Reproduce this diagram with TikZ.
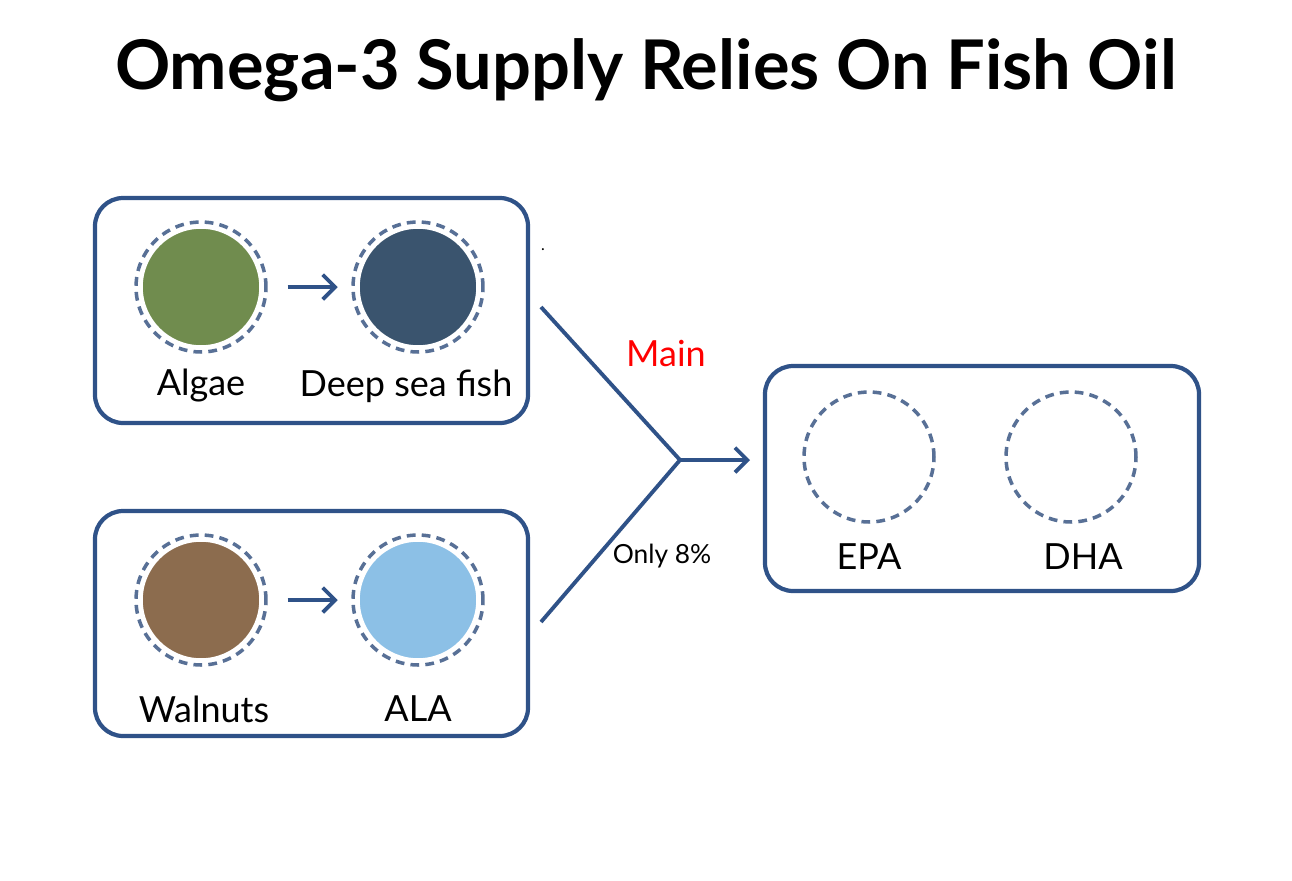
\documentclass[tikz,border=0pt]{standalone}
\usepackage{fontspec}
\setmainfont{Lato}
\usetikzlibrary{arrows.meta,positioning}
\definecolor{boxblue}{RGB}{47,82,136}
\definecolor{ringblue}{RGB}{88,112,150}
\definecolor{algaegreen}{RGB}{112,140,78}
\definecolor{fishblue}{RGB}{58,84,110}
\definecolor{nutbrown}{RGB}{140,108,78}
\definecolor{alablue}{RGB}{140,192,230}
\tikzset{
  panel/.style={draw=boxblue, line width=2.4pt, rounded corners=16pt},
  photo/.style={circle, minimum size=2.4cm, inner sep=0pt, draw=white, line width=2pt},
  ring/.style={circle, minimum size=2.6cm, inner sep=0pt, draw=ringblue, line width=2pt, dash pattern=on 5pt off 3.5pt},
  tag/.style={font=\fontsize{20.5}{24}\selectfont},
  link/.style={draw=boxblue, line width=2.2pt},
  flow/.style={link, -{Straight Barb[length=7pt,width=14pt]}}
}
\begin{document}
\begin{tikzpicture}[x=0.02cm,y=-0.02cm]
    \useasboundingbox (0,0) rectangle (1292,880);
    % Title
    \node[font=\bfseries\fontsize{39}{44}\selectfont] (title) at (646,70) {Omega-3 Supply Relies On Fish Oil};

    % Panels
    \draw[panel] (95,198) rectangle (528,423);
    \draw[panel] (95,511) rectangle (528,736);
    \draw[panel] (765,366) rectangle (1199,591);

    % Pictures in dashed rings
    \foreach \name/\x/\y/\col in {algae/201/287/algaegreen, fish/418/287/fishblue,
        walnut/201/600/nutbrown, ala/418/600/alablue, epa/869/457/white, dha/1071/457/white} {
        \node[photo, fill=\col] at (\x,\y) {};
        \node[ring] (\name) at (\x,\y) {};
    }

    % Labels
    \node[tag] (algaetxt) at (201,386) {Algae};
    \node[tag] (fishtxt) at (406,386) {Deep sea fish};
    \node[tag] (walnuttxt) at (204,709) {Walnuts};
    \node[tag] (alatxt) at (418,709) {ALA};
    \node[tag] (epatxt) at (869,557) {EPA};
    \node[tag] (dhatxt) at (1083,557) {DHA};

    % Arrows inside panels
    \draw[flow] (algae.east) ++(20,0) coordinate (a1) -- ++(50,0) coordinate (a2);
    \draw[flow] (walnut.east) ++(20,0) coordinate (b1) -- ++(50,0) coordinate (b2);

    % Merging lines
    \coordinate (topend) at (541,307);
    \coordinate (botend) at (541,622);
    \coordinate (join) at (680,460);
    \coordinate (goal) at (750,460);
    \draw[link] (topend) -- (join) -- (botend);
    \draw[flow] (join) -- (goal);

    \node[tag, text=red] (main) at (666,353) {Main};
    \node[font=\fontsize{15}{18}\selectfont] (only) at (662,556) {Only 8\%};
    \node[font=\small] (dot) at (543,250) {.};
\end{tikzpicture}
\end{document}
